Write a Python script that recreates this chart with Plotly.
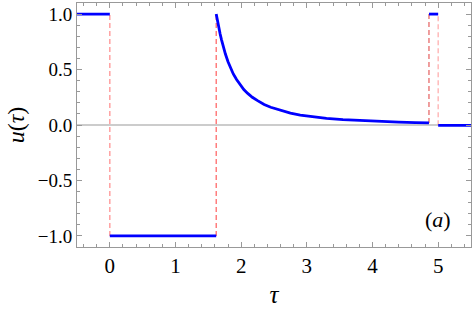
import plotly.graph_objects as go

# piecewise control u(tau)
tau_a = [-0.5, 0.0]
u_a = [1.0, 1.0]
tau_b = [0.0, 1.62]
u_b = [-1.0, -1.0]
tau_c = [1.62, 1.64, 1.66, 1.68, 1.70, 1.73, 1.76, 1.80, 1.84, 1.88, 1.93, 1.98, 2.04, 2.10, 2.17, 2.25,
         2.35, 2.45, 2.6, 2.75, 2.9, 3.1, 3.3, 3.55, 3.8, 4.1, 4.4, 4.65, 4.86]
u_c = [1.0, 0.93, 0.87, 0.82, 0.77, 0.70, 0.64, 0.57, 0.51, 0.46, 0.41, 0.365, 0.32, 0.285, 0.25, 0.22,
       0.185, 0.16, 0.13, 0.107, 0.09, 0.073, 0.06, 0.048, 0.04, 0.032, 0.026, 0.022, 0.019]
tau_d = [4.86, 5.0]
u_d = [1.0, 1.0]
tau_e = [5.0, 5.5]
u_e = [-0.003, -0.003]

# switching times (dashed lines)
switch_tau = [0.0, 1.62, 4.86, 5.0]
switch_lo = [-1.0, -1.0, 0.019, -0.003]
switch_hi = [1.0, 1.0, 1.0, 1.0]
switch_col = ["rgba(255,110,110,0.75)", "rgba(255,80,80,0.85)", "rgba(225,70,70,0.8)", "rgba(255,140,140,0.7)"]

xticks = [0, 1, 2, 3, 4, 5]
yticks = [-1.0, -0.5, 0.0, 0.5, 1.0]
yticktext = ["\u22121.0", "\u22120.5", "0.0", "0.5", "1.0"]

SERIF = "Liberation Serif"

fig = go.Figure()

# zero line
fig.add_trace(go.Scatter(x=[-0.5, 5.5], y=[0, 0], mode="lines",
                         line=dict(color="#999999", width=1), hoverinfo="skip"))

for t, lo, hi, c in zip(switch_tau, switch_lo, switch_hi, switch_col):
    fig.add_trace(go.Scatter(x=[t, t], y=[lo, hi], mode="lines",
                             line=dict(color=c, width=1.3, dash="5px,3px")))

for xs, ys in [(tau_a, u_a), (tau_b, u_b), (tau_c, u_c), (tau_d, u_d), (tau_e, u_e)]:
    fig.add_trace(go.Scatter(x=xs, y=ys, mode="lines",
                             line=dict(color="#0000ff", width=2.8)))

axis_common = dict(
    showgrid=False, zeroline=False, showline=True, linecolor="#999999", linewidth=1,
    mirror="ticks", ticks="inside", ticklen=5, tickcolor="#999999", tickwidth=1,
    automargin=False,
)

fig.update_xaxes(range=[-0.5, 5.5], tickvals=xticks,
                 tickfont=dict(family=SERIF, size=21, color="black"),
                 minor=dict(dtick=0.2, ticks="inside", ticklen=3, tickcolor="#999999", showgrid=False),
                 title=dict(text="<i>\u03c4</i>", font=dict(family=SERIF, size=25, color="black"), standoff=8),
                 **axis_common)
fig.update_yaxes(range=[-1.1, 1.1], tickvals=yticks, ticktext=yticktext,
                 tickfont=dict(family=SERIF, size=19, color="black"),
                 minor=dict(dtick=0.1, ticks="inside", ticklen=3, tickcolor="#999999", showgrid=False),
                 title=dict(text="<i>u</i>(<i>\u03c4</i>)", font=dict(family=SERIF, size=24, color="black"), standoff=6),
                 **axis_common)

fig.add_annotation(x=4.99, y=-0.85, xref="x", yref="y", text="(<i>a</i>)", showarrow=False,
                   font=dict(family=SERIF, size=22, color="black"))

fig.update_layout(width=472, height=309, showlegend=False, hovermode=False,
                  font=dict(family=SERIF),
                  margin=dict(l=77, r=1, t=3, b=62),
                  plot_bgcolor="white", paper_bgcolor="white")

fig.write_html("out.html", config={"displayModeBar": False},
               post_script="document.body.style.margin='0px';document.body.style.padding='0px';")
